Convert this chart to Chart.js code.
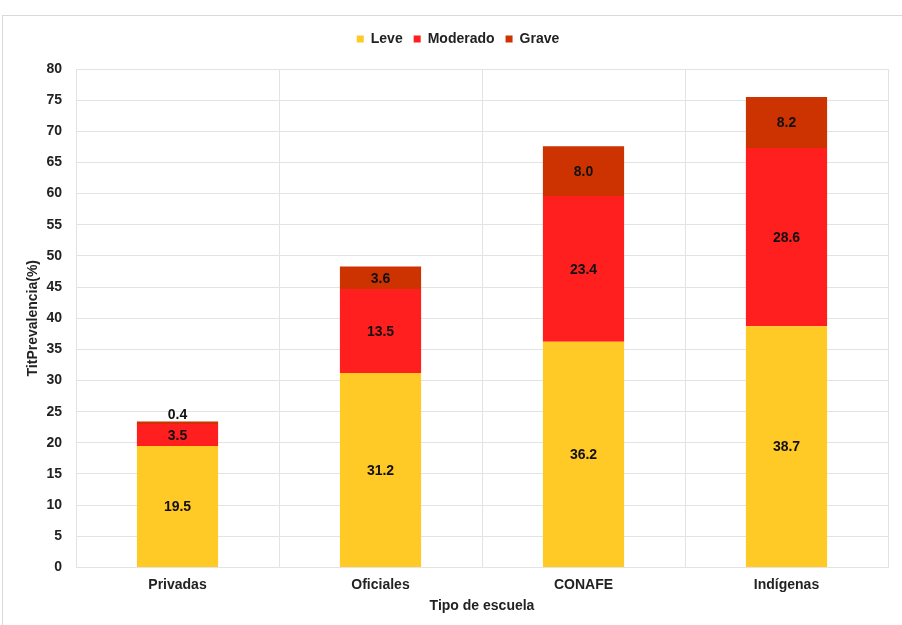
<!DOCTYPE html>
<html>
<head>
<meta charset="utf-8">
<script src="https://cdn.jsdelivr.net/npm/chart.js@4/dist/chart.umd.min.js"></script>
<style>
    body { margin: 0; background: #fff; overflow: hidden; }
    #frame { position: absolute; left: 2px; top: 15px; width: 920px; height: 640px; border: 1px solid #d9d9d9; }
    #wrap { position: absolute; left: 0; top: 0; width: 902px; height: 625px; }
</style>
</head>
<body>
<div id="frame"></div>
<div id="wrap"><canvas id="barChart" width="902" height="625"></canvas></div>
<script>
'use strict';

var categories = ['Privadas', 'Oficiales', 'CONAFE', 'Indígenas'];
var leve = [19.5, 31.2, 36.2, 38.7];
var moderado = [3.5, 13.5, 23.4, 28.6];
var grave = [0.4, 3.6, 8.0, 8.2];
var yTicks = [0, 5, 10, 15, 20, 25, 30, 35, 40, 45, 50, 55, 60, 65, 70, 75, 80];

var fontFamily = '"Liberation Sans", Arial, sans-serif';

// draws the value of each segment inside the bar, or above it if too thin
var barLabels = {
    id: 'barLabels',
    beforeInit: function (chart) {
        // a bit more room between the legend and the plot
        var fit = chart.legend.fit;
        chart.legend.fit = function () {
            fit.call(this);
            this.height += 13;
        };
    },
    afterDatasetsDraw: function (chart) {
        var ctx = chart.ctx;
        ctx.save();
        ctx.font = 'bold 14px ' + fontFamily;
        ctx.fillStyle = '#111';
        ctx.textAlign = 'center';
        chart.data.datasets.forEach(function (ds, i) {
            var meta = chart.getDatasetMeta(i);
            meta.data.forEach(function (bar, j) {
                var h = Math.abs(bar.base - bar.y);
                var text = Number(ds.data[j]).toFixed(1);
                if (h < 12) {
                    ctx.textBaseline = 'bottom';
                    ctx.fillText(text, bar.x, bar.y + 1);
                } else {
                    ctx.textBaseline = 'middle';
                    ctx.fillText(text, bar.x, (bar.y + bar.base) / 2 + 1);
                }
            });
        });
        ctx.restore();
    }
};

var ctx = document.getElementById('barChart').getContext('2d');

var barChart = new Chart(ctx, {
    type: 'bar',
    data: {
        labels: categories,
        datasets: [
            { label: 'Leve', data: leve, backgroundColor: '#FFC926' },
            { label: 'Moderado', data: moderado, backgroundColor: '#FF1F1F' },
            { label: 'Grave', data: grave, backgroundColor: '#CC3300' }
        ]
    },
    options: {
        responsive: false,
        animation: false,
        devicePixelRatio: 1,
        layout: { padding: { top: 21, right: 14, bottom: 10, left: 28 } },
        datasets: { bar: { categoryPercentage: 1, barPercentage: 0.4 } },
        plugins: {
            tooltip: { enabled: false },
            legend: {
                position: 'top',
                labels: {
                    boxWidth: 7,
                    boxHeight: 7,
                    padding: 11,
                    color: '#222',
                    font: { family: fontFamily, size: 14, weight: 'bold' }
                }
            }
        },
        scales: {
            x: {
                stacked: true,
                grid: { color: '#e3e3e3', offset: true, drawTicks: false },
                border: { color: '#e3e3e3' },
                ticks: { color: '#222', padding: 9, font: { family: fontFamily, size: 14, weight: 'bold' } },
                title: {
                    display: true,
                    text: 'Tipo de escuela',
                    color: '#222',
                    padding: { top: -4, bottom: 0 },
                    font: { family: fontFamily, size: 14, weight: 'bold' }
                }
            },
            y: {
                stacked: true,
                min: 0,
                max: 80,
                afterBuildTicks: function (scale) {
                    scale.ticks = yTicks.map(function (v) { return { value: v }; });
                },
                afterFit: function (scale) {
                    scale.width = 48;
                },
                grid: { color: '#e3e3e3', drawTicks: false },
                border: { color: '#e3e3e3' },
                ticks: { color: '#222', padding: 14, font: { family: fontFamily, size: 14, weight: 'bold' } },
                title: {
                    display: true,
                    text: 'TitPrevalencia(%)',
                    color: '#222',
                    padding: { top: -3, bottom: 0 },
                    font: { family: fontFamily, size: 14, weight: 'bold' }
                }
            }
        }
    },
    plugins: [barLabels]
});
</script>
</body>
</html>
